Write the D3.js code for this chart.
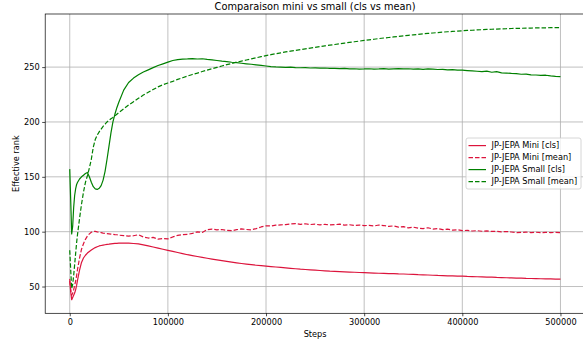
<!DOCTYPE html>
<html>
<head>
<meta charset="utf-8">
<script src="https://cdn.jsdelivr.net/npm/d3@7"></script>
<style>
  body { margin: 0; background: #fff; }
  svg { display: block; font-family: "DejaVu Sans", sans-serif; }
</style>
</head>
<body>
<div id="chart"></div>
<script>
// training steps (x values shared by all series)
var steps = [0, 1000, 2000, 3000, 4000, 5000, 6000, 7000, 8000, 10000,
  12000, 14000, 16000, 18000, 20000, 22000, 24000, 26000, 28000, 30000,
  32000, 34000, 36000, 38000, 40000, 42000, 44000, 46000, 48000, 50000,
  55000, 60000, 65000, 70000, 75000, 80000, 85000, 90000, 95000, 100000,
  105000, 110000, 115000, 120000, 125000, 130000, 135000, 140000, 145000, 150000,
  155000, 160000, 165000, 170000, 175000, 180000, 185000, 190000, 195000, 200000,
  205000, 210000, 215000, 220000, 225000, 230000, 235000, 240000, 245000, 250000,
  255000, 260000, 265000, 270000, 275000, 280000, 285000, 290000, 295000, 300000,
  305000, 310000, 315000, 320000, 325000, 330000, 335000, 340000, 345000, 350000,
  355000, 360000, 365000, 370000, 375000, 380000, 385000, 390000, 395000, 400000,
  405000, 410000, 415000, 420000, 425000, 430000, 435000, 440000, 445000, 450000,
  455000, 460000, 465000, 470000, 475000, 480000, 485000, 490000, 495000, 500000];

var miniCls = [57, 45, 38, 40, 42, 44, 47, 51, 56, 65,
  72, 76, 78.5, 80.5, 82, 83.3, 84.5, 85.5, 86.3, 87,
  87.4, 87.8, 88.1, 88.4, 88.6, 88.9, 89.1, 89.3, 89.4, 89.5,
  89.6, 89.5, 89.2, 88.8, 88, 87, 86, 85, 84, 83,
  82, 81, 80, 79, 78.2, 77.4, 76.6, 75.8, 75, 74.3,
  73.6, 72.9, 72.2, 71.6, 71, 70.4, 69.9, 69.4, 69, 68.6,
  68.2, 67.8, 67.4, 67, 66.6, 66.2, 65.8, 65.5, 65.2, 64.9,
  64.6, 64.3, 64, 63.8, 63.6, 63.4, 63.2, 63, 62.8, 62.7,
  62.5, 62.3, 62.1, 62, 61.8, 61.7, 61.5, 61.4, 61.2, 61,
  60.8, 60.7, 60.5, 60.3, 60.1, 60, 59.8, 59.7, 59.5, 59.4,
  59.2, 59.1, 58.9, 58.8, 58.6, 58.5, 58.3, 58.2, 58, 57.9,
  57.7, 57.6, 57.4, 57.3, 57.2, 57.1, 57, 56.9, 56.8, 56.7];

var miniMean = [55, 47, 42, 44, 47, 51, 55, 60, 66, 76,
  84, 89, 93, 96, 98, 99.5, 100.3, 100.2, 99.8, 99.5,
  99.1, 98.7, 98.4, 98.2, 98, 97.8, 97.5, 97.3, 97.2, 96.8,
  96.4, 96, 96.3, 97.2, 95.2, 94.2, 94.8, 93.2, 93.8, 93.4,
  95.2, 96.6, 97.3, 97.6, 98.4, 99.8, 99.3, 101.8, 102.3, 101.7,
  102, 101.2, 100.9, 101.8, 102.5, 102, 101.7, 102.8, 104.3, 105.3,
  105.2, 105.9, 106.2, 106.5, 107, 107.4, 106.7, 107.2, 106.5, 106.8,
  106.2, 106.7, 106.1, 106.4, 106.8, 106, 106.3, 105.6, 106, 105.5,
  105.7, 105.2, 106.1, 105.6, 104.8, 105.3, 104.2, 104.6, 103.5, 104.1,
  103.2, 102.8, 103.6, 102.4, 102.9, 101.8, 102.3, 101.4, 101.8, 100.9,
  101.2, 100.6, 100.9, 100.4, 100.7, 100.2, 100.4, 99.9, 100.1, 99.7,
  99.1, 99.3, 99.6, 99.2, 99.5, 99.1, 99.4, 99.2, 99.3, 99.1];

var smallCls = [157, 128, 98, 105, 122, 133, 139, 143, 145, 148,
  150, 151.5, 153, 154, 150, 145, 141, 139, 138.5, 139.5,
  142, 147, 155, 166, 178, 190, 200, 207, 213, 218,
  229, 236, 240, 243, 245.5, 247.5, 249.5, 251.5, 253, 254.5,
  256, 256.8, 257.3, 257.5, 257.8, 257.4, 257.6, 257, 256.5, 256,
  255.4, 255, 254.4, 254, 253.5, 253, 252.6, 252, 251.5, 251,
  250.5, 250.2, 250, 249.8, 250, 249.5, 249.4, 249.6, 249.2, 249.3,
  249, 249.2, 248.8, 248.9, 248.6, 248.8, 248.4, 248.5, 248.2, 248.3,
  248.5, 248.1, 248.3, 248.6, 248.2, 248.4, 248.6, 248.3, 248.5, 248.2,
  248.4, 248, 248.3, 248.1, 247.8, 247.9, 247.5, 247.7, 247.2, 247.2,
  246.8, 246.5, 246.2, 245.8, 246.3, 245.3, 245.8, 244.8, 244.6, 244.2,
  244, 243.5, 243.6, 243, 242.8, 242.4, 242.6, 242, 241.6, 241.3];

var smallMean = [83, 65, 48, 52, 60, 70, 80, 90, 98, 112,
  125, 136, 145, 151, 158, 166, 177, 184, 188, 191,
  193.5, 196, 198, 200, 201.5, 203, 204, 205.5, 207, 208.5,
  212, 215.5, 218.5, 221.5, 224.5, 227, 229.5, 232, 234, 235.5,
  237, 238.8, 240.3, 241.8, 243.3, 244.5, 246, 247.3, 248.5, 249.7,
  251, 252.2, 253.3, 254.5, 255.5, 256.5, 257.5, 258.5, 259.5, 260.5,
  261.3, 262.2, 263, 263.8, 264.5, 265.2, 265.9, 266.6, 267.3, 268,
  268.7, 269.3, 270, 270.6, 271.2, 271.9, 272.5, 273.1, 273.7, 274.3,
  274.9, 275.4, 276, 276.5, 277, 277.5, 278, 278.5, 279, 279.4,
  279.8, 280.3, 280.7, 281.1, 281.5, 281.9, 282.2, 282.5, 282.8, 283.1,
  283.4, 283.6, 283.9, 284.1, 284.3, 284.5, 284.7, 284.9, 285, 285.2,
  285.3, 285.4, 285.5, 285.6, 285.7, 285.8, 285.8, 285.9, 286, 286];

var seriesNames = ["JP-JEPA Mini [cls]", "JP-JEPA Mini [mean]", "JP-JEPA Small [cls]", "JP-JEPA Small [mean]"];
var seriesValues = [miniCls, miniMean, smallCls, smallMean];
var seriesColors = ["#dc143c", "#dc143c", "#008000", "#008000"];
var seriesDashed = [false, true, false, true];

var xTicks = [0, 100000, 200000, 300000, 400000, 500000];
var yTicks = [50, 100, 150, 200, 250];

var width = 583, height = 344;
var margin = {top: 14, right: -2, bottom: 30.7, left: 45.2};
var plotW = width - margin.left - margin.right,
    plotH = height - margin.top - margin.bottom;

var svg = d3.select("#chart").append("svg")
  .attr("width", width)
  .attr("height", height);

// matplotlib style 5% margins
var xExt = d3.extent(steps);
var xPad = (xExt[1] - xExt[0]) * 0.05;
var allY = d3.merge(seriesValues);
var yExt = d3.extent(allY);
var yPad = (yExt[1] - yExt[0]) * 0.05;

var x = d3.scaleLinear()
  .domain([xExt[0] - xPad, xExt[1] + xPad])
  .range([margin.left, margin.left + plotW]);

var y = d3.scaleLinear()
  .domain([yExt[0] - yPad, yExt[1] + yPad])
  .range([margin.top + plotH, margin.top]);

// grid
var grid = svg.append("g").attr("class", "grid");
grid.selectAll(".vgrid")
  .data(xTicks)
  .enter().append("line")
  .attr("x1", function(d) { return x(d); })
  .attr("x2", function(d) { return x(d); })
  .attr("y1", margin.top)
  .attr("y2", margin.top + plotH)
  .style("stroke", "#b0b0b0")
  .style("stroke-width", 0.8);
grid.selectAll(".hgrid")
  .data(yTicks)
  .enter().append("line")
  .attr("x1", margin.left)
  .attr("x2", margin.left + plotW)
  .attr("y1", function(d) { return y(d); })
  .attr("y2", function(d) { return y(d); })
  .style("stroke", "#b0b0b0")
  .style("stroke-width", 0.8);

// lines
var line = d3.line()
  .x(function(d) { return x(d[0]); })
  .y(function(d) { return y(d[1]); });

var plotG = svg.append("g");
seriesValues.forEach(function(vals, i) {
  plotG.append("path")
    .datum(d3.zip(steps, vals))
    .attr("d", line)
    .style("fill", "none")
    .style("stroke", seriesColors[i])
    .style("stroke-width", 1.2)
    .style("stroke-linejoin", "round")
    .style("stroke-dasharray", seriesDashed[i] ? "4.5,2" : null);
});

// axes
var xAxis = svg.append("g")
  .attr("transform", "translate(0," + (margin.top + plotH) + ")")
  .call(d3.axisBottom(x).tickValues(xTicks).tickFormat(d3.format("d")).tickSizeOuter(0).tickSize(3).tickPadding(2.5));
var yAxis = svg.append("g")
  .attr("transform", "translate(" + margin.left + ",0)")
  .call(d3.axisLeft(y).tickValues(yTicks).tickSizeOuter(0).tickSize(3).tickPadding(2.5));

[xAxis, yAxis].forEach(function(a) {
  a.select(".domain").remove();
  a.selectAll("line").style("stroke", "#000").style("stroke-width", 0.7);
  a.selectAll("text")
    .style("font-family", "DejaVu Sans")
    .style("font-size", "8.2px")
    .style("fill", "#000");
});

// spines
svg.append("rect")
  .attr("x", margin.left)
  .attr("y", margin.top)
  .attr("width", plotW)
  .attr("height", plotH)
  .style("fill", "none")
  .style("stroke", "#000")
  .style("stroke-width", 0.7);

// title and labels
svg.append("text")
  .attr("x", margin.left + plotW / 2)
  .attr("y", 9.6)
  .attr("text-anchor", "middle")
  .style("font-size", "9.8px")
  .text("Comparaison mini vs small (cls vs mean)");

svg.append("text")
  .attr("x", margin.left + plotW / 2)
  .attr("y", 337)
  .attr("text-anchor", "middle")
  .style("font-size", "8.2px")
  .text("Steps");

svg.append("text")
  .attr("transform", "translate(19," + (margin.top + plotH / 2) + ") rotate(-90)")
  .attr("text-anchor", "middle")
  .style("font-size", "8.2px")
  .text("Effective rank");

// legend
var legendX = 466, legendY = 138;
var legendG = svg.append("g")
  .attr("class", "legend")
  .attr("transform", "translate(" + legendX + "," + legendY + ")");

legendG.append("rect")
  .attr("width", 115)
  .attr("height", 51)
  .attr("rx", 2)
  .style("fill", "#fff")
  .style("fill-opacity", 0.8)
  .style("stroke", "#cccccc")
  .style("stroke-width", 0.8);

var legendItems = legendG.selectAll(".legend-item")
  .data(seriesNames)
  .enter().append("g")
  .attr("class", "legend-item")
  .attr("transform", function(d, i) { return "translate(0," + (7.6 + i * 12) + ")"; });

legendItems.append("line")
  .attr("x1", 2.5)
  .attr("x2", 20)
  .style("stroke", function(d, i) { return seriesColors[i]; })
  .style("stroke-width", 1.2)
  .style("stroke-dasharray", function(d, i) { return seriesDashed[i] ? "4.5,2" : null; });

legendItems.append("text")
  .attr("x", 25.5)
  .attr("dy", "0.35em")
  .style("font-size", "8.2px")
  .text(function(d) { return d; });
</script>
</body>
</html>
